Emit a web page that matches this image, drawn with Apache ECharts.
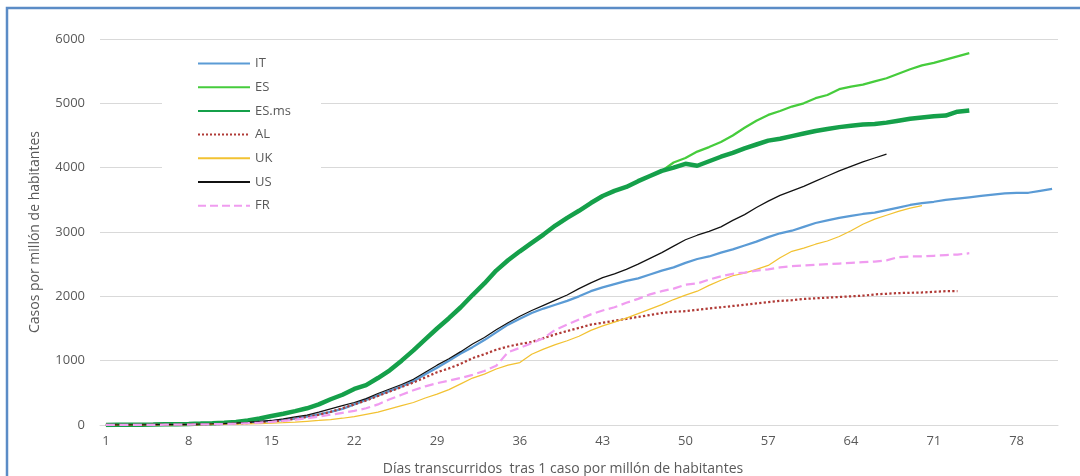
<!DOCTYPE html>
<html>
<head>
<meta charset="utf-8">
<script src="https://cdn.jsdelivr.net/npm/echarts@6.0.0/dist/echarts.min.js"></script>
<style>
  html, body { margin: 0; padding: 0; background: #fff; }
  #chart { width: 1080px; height: 476px; }
</style>
</head>
<body>
<div id="chart"></div>
<script>
// days since 1 case per million
var days = [1,2,3,4,5,6,7,8,9,10,11,12,13,14,15,16,17,18,19,20,
  21,22,23,24,25,26,27,28,29,30,31,32,33,34,35,36,37,38,39,40,
  41,42,43,44,45,46,47,48,49,50,51,52,53,54,55,56,57,58,59,60,
  61,62,63,64,65,66,67,68,69,70,71,72,73,74,75,76,77,78,79,80,81];

var IT = [1,2,3,4,6,8,10,13,17,22,28,35,42,50,62,80,100,130,165,205,
  250,320,390,460,530,600,680,790,890,1000,1110,1210,1320,1440,1560,1650,1740,1810,1870,1930,
  2000,2080,2140,2190,2240,2280,2340,2400,2450,2520,2580,2620,2680,2730,2790,2850,2920,2980,3020,3080,
  3140,3180,3220,3250,3280,3300,3340,3380,3420,3450,3470,3500,3520,3540,3560,3580,3600,3610,3610,3640,3670];

var ES = [1,2,3,5,7,10,13,17,22,28,36,48,70,100,140,175,215,260,320,400,
  470,560,620,730,850,1000,1160,1330,1500,1660,1830,2020,2200,2400,2560,2700,2830,2960,3100,3220,
  3330,3450,3560,3640,3700,3790,3870,3950,4080,4150,4250,4320,4400,4500,4620,4730,4820,4880,4950,5000,
  5080,5130,5220,5260,5290,5340,5390,5460,5530,5590,5630,5680,5730,5780];

var ESms = [1,2,3,5,7,10,13,17,22,28,36,48,70,100,140,175,215,260,320,400,
  470,560,620,730,850,1000,1160,1330,1500,1660,1830,2020,2200,2400,2560,2700,2830,2960,3100,3220,
  3330,3450,3560,3640,3700,3790,3870,3950,4000,4060,4030,4100,4170,4230,4300,4360,4420,4450,4490,4530,
  4570,4600,4630,4650,4670,4680,4700,4730,4760,4780,4800,4810,4870,4890];

var AL = [1,1,2,3,4,5,6,8,10,13,17,22,30,42,55,72,95,125,160,205,
  260,320,380,450,520,590,660,740,820,880,950,1040,1100,1170,1220,1260,1290,1350,1410,1460,
  1510,1560,1590,1620,1650,1680,1710,1740,1760,1770,1790,1810,1830,1850,1870,1890,1910,1930,1940,1960,
  1970,1980,1990,2000,2010,2030,2040,2050,2055,2060,2070,2080,2080];

var UK = [0,1,1,2,2,3,4,5,7,9,12,15,18,22,28,35,45,58,70,85,
  105,130,165,200,250,300,350,420,480,550,640,730,790,870,930,970,1100,1180,1250,1310,
  1380,1470,1540,1600,1660,1730,1800,1870,1950,2020,2080,2170,2250,2320,2360,2420,2480,2600,2700,2750,
  2810,2860,2930,3020,3120,3200,3260,3320,3370,3410];

var US = [1,1,2,3,4,5,7,9,12,16,22,30,40,55,70,95,125,155,200,250,
  300,350,410,490,560,630,710,820,930,1030,1140,1260,1360,1480,1590,1690,1780,1860,1940,2020,
  2120,2210,2290,2350,2420,2500,2590,2680,2780,2880,2950,3010,3080,3180,3270,3380,3480,3570,3640,3710,
  3790,3870,3950,4020,4090,4150,4210];

var FR = [1,1,2,2,3,4,5,7,9,12,15,20,28,38,50,65,85,105,130,160,
  190,220,260,320,400,470,540,600,650,690,730,780,840,920,1130,1200,1270,1350,1480,1560,
  1640,1720,1780,1830,1900,1960,2030,2080,2120,2180,2200,2260,2310,2350,2370,2400,2420,2450,2470,2480,
  2490,2500,2510,2520,2530,2540,2560,2610,2620,2620,2630,2640,2650,2670];

var chartDom = document.getElementById('chart');
var myChart = echarts.init(chartDom);
var font = '"Open Sans", "Noto Sans", sans-serif';

function line(name, data, color, width, type) {
  return {
    name: name,
    type: 'line',
    data: data,
    symbol: 'none',
    smooth: false,
    animation: false,
    lineStyle: { color: color, width: width, type: type || 'solid' },
    itemStyle: { color: color }
  };
}

var option = {
  backgroundColor: '#fff',
  textStyle: { fontFamily: font },
  graphic: [{
    type: 'rect',
    shape: { x: 7, y: 8, width: 1100, height: 500 },
    style: { fill: 'none', stroke: '#5b8cc6', lineWidth: 2.5 },
    silent: true
  }],
  grid: { left: 100, right: 22, top: 39, bottom: 51, outerBoundsMode: 'none' },
  legend: {
    orient: 'vertical',
    left: 162,
    top: 49,
    padding: [8, 30, 8, 35],
    backgroundColor: '#fff',
    itemWidth: 52,
    itemHeight: 14,
    itemGap: 10.7,
    // hide the round marker, keep only the line sample
    itemStyle: { opacity: 0 },
    textStyle: { color: '#595959', fontSize: 13, fontFamily: font },
    data: ['IT', 'ES', 'ES.ms', 'AL', 'UK', 'US', 'FR']
  },
  xAxis: {
    type: 'category',
    data: days,
    boundaryGap: true,
    name: 'Días transcurridos  tras 1 caso por millón de habitantes',
    nameLocation: 'middle',
    nameGap: 37,
    nameTextStyle: { color: '#595959', fontSize: 14, padding: [0, 32, 0, 0] },
    axisLine: { lineStyle: { color: '#d9d9d9' } },
    axisTick: { show: false },
    axisLabel: { interval: 6, color: '#595959', fontSize: 13, margin: 10 },
    splitLine: { show: false }
  },
  yAxis: {
    type: 'value',
    min: 0,
    max: 6000,
    interval: 1000,
    name: 'Casos por millón de habitantes',
    nameLocation: 'middle',
    nameGap: 58,
    nameTextStyle: { color: '#595959', fontSize: 14 },
    axisLine: { show: false },
    axisTick: { show: false },
    axisLabel: {
      color: '#595959', fontSize: 13, margin: 15,
      formatter: function (v) { return String(v); }
    },
    splitLine: { lineStyle: { color: '#d9d9d9', width: 1 } }
  },
  series: [
    line('IT', IT, '#5b9bd5', 2.25),
    line('ES', ES, '#46cc3c', 2.25),
    line('ES.ms', ESms, '#15a04a', 4.5),
    line('AL', AL, '#b03a36', 2.25, 'dotted'),
    line('UK', UK, '#f2c232', 1.25),
    line('US', US, '#111111', 1.25),
    line('FR', FR, '#f09cf0', 2.25, 'dashed')
  ]
};

option && myChart.setOption(option);
window.addEventListener('resize', function () { myChart.resize(); });
</script>
</body>
</html>
